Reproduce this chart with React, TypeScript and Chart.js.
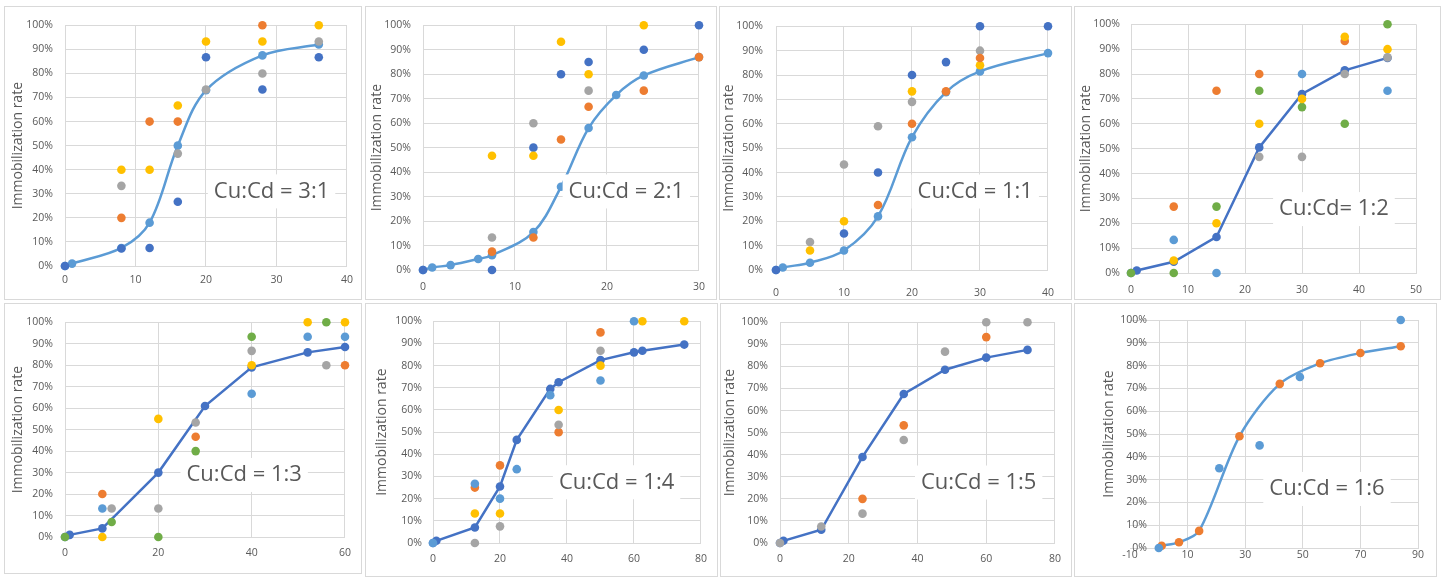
import React, { useEffect, useRef } from 'react';
import { Chart, registerables } from 'chart.js';

Chart.register(...registerables);

type Pt = [number, number];

// ---------- DATA (x = time/dose, y = immobilization rate in %) ----------
// Panel 1: Cu:Cd = 3:1
const p1Fit: Pt[] = [[0, 0], [1, 1], [8, 7.5], [12, 18], [16, 50], [20, 73], [28, 87.5], [36, 92]];
const p1Yellow: Pt[] = [[8, 40], [12, 40], [16, 66.7], [20, 93.3], [28, 93.3], [36, 100]];
const p1Orange: Pt[] = [[8, 20], [12, 60], [16, 60], [28, 100]];
const p1Gray: Pt[] = [[8, 33.3], [16, 46.7], [20, 73.3], [28, 80], [36, 93.3]];
const p1Dark: Pt[] = [[0, 0], [8, 7.3], [12, 7.5], [16, 26.7], [20, 86.7], [28, 73.3], [36, 86.7]];

// Panel 2: Cu:Cd = 2:1
const p2Fit: Pt[] = [[0, 0], [1, 1], [3, 2], [6, 4.5], [7.5, 6], [12, 15.5], [15, 34], [18, 58], [21, 71.5], [24, 79.5], [30, 87]];
const p2Yellow: Pt[] = [[7.5, 46.7], [12, 46.7], [15, 93.3], [18, 80], [24, 100]];
const p2Dark: Pt[] = [[0, 0], [7.5, 0], [12, 50], [15, 80], [18, 85], [24, 90], [30, 100]];
const p2Gray: Pt[] = [[7.5, 13.3], [12, 60], [18, 73.3]];
const p2Orange: Pt[] = [[7.5, 7.5], [12, 13.3], [15, 53.3], [18, 66.7], [24, 73.3], [30, 87]];

// Panel 3: Cu:Cd = 1:1
const p3Fit: Pt[] = [[0, 0], [1, 1], [5, 3], [10, 8], [15, 22], [20, 54.5], [25, 73], [30, 81.5], [40, 89]];
const p3Gray: Pt[] = [[5, 11.5], [10, 43.3], [15, 59], [20, 69], [30, 90]];
const p3Yellow: Pt[] = [[5, 8], [10, 20], [20, 73.3], [30, 84]];
const p3Dark: Pt[] = [[0, 0], [10, 15], [15, 40], [20, 80], [25, 85.3], [30, 100], [40, 100]];
const p3Orange: Pt[] = [[15, 26.7], [20, 60], [25, 73.3], [30, 87]];

// Panel 4: Cu:Cd = 1:2
const p4Fit: Pt[] = [[0, 0], [1, 1], [7.5, 4.5], [15, 14.5], [22.5, 50.5], [30, 72], [37.5, 81.5], [45, 86.5]];
const p4Yellow: Pt[] = [[7.5, 5], [15, 20], [22.5, 60], [30, 70], [37.5, 95], [45, 90]];
const p4Orange: Pt[] = [[7.5, 26.7], [15, 73.3], [22.5, 80], [37.5, 93.3]];
const p4Light: Pt[] = [[7.5, 13.3], [15, 0], [30, 80], [45, 73.3]];
const p4Green: Pt[] = [[0, 0], [7.5, 0], [15, 26.7], [22.5, 73.3], [30, 66.7], [37.5, 60], [45, 100]];
const p4Gray: Pt[] = [[22.5, 46.7], [30, 46.7], [37.5, 80], [45, 86.7]];

// Panel 5: Cu:Cd = 1:3
const p5Fit: Pt[] = [[0, 0], [1, 1], [8, 4], [20, 30], [30, 61], [40, 79], [52, 86], [60, 88.5]];
const p5Orange: Pt[] = [[8, 20], [28, 46.7], [60, 80]];
const p5Light: Pt[] = [[8, 13.3], [40, 66.7], [52, 93.3], [60, 93.3]];
const p5Gray: Pt[] = [[10, 13.3], [20, 13.3], [28, 53.3], [40, 86.7], [56, 80]];
const p5Yellow: Pt[] = [[8, 0], [20, 55], [40, 80], [52, 100], [60, 100]];
const p5Green: Pt[] = [[0, 0], [10, 7], [20, 0], [28, 40], [40, 93.3], [56, 100]];

// Panel 6: Cu:Cd = 1:4
const p6Fit: Pt[] = [[0, 0], [1, 1], [12.5, 7], [20, 25.5], [25, 46.5], [35, 69.5], [37.5, 72.5], [50, 82.5], [60, 86], [62.5, 86.7], [75, 89.5]];
const p6Orange: Pt[] = [[12.5, 25], [20, 35], [37.5, 50], [50, 95]];
const p6Light: Pt[] = [[0, 0], [12.5, 26.7], [20, 20], [25, 33.3], [35, 66.7], [50, 73.3], [60, 100]];
const p6Yellow: Pt[] = [[12.5, 13.3], [20, 13.3], [37.5, 60], [50, 80], [62.5, 100], [75, 100]];
const p6Gray: Pt[] = [[12.5, 0], [20, 7.5], [37.5, 53.3], [50, 86.7]];

// Panel 7: Cu:Cd = 1:5
const p7Fit: Pt[] = [[0, 0], [1, 1], [12, 6], [24, 39], [36, 67.5], [48, 78.5], [60, 84], [72, 87.5]];
const p7Gray: Pt[] = [[0, 0], [12, 7.5], [24, 13.3], [36, 46.7], [48, 86.7], [60, 100], [72, 100]];
const p7Orange: Pt[] = [[24, 20], [36, 53.3], [60, 93.3]];

// Panel 8: Cu:Cd = 1:6
const p8Fit: Pt[] = [[1, 1], [7, 2.5], [14, 7.5], [28, 49], [42, 72], [56, 81], [70, 85.5], [84, 88.5]];
const p8Blue: Pt[] = [[0, 0], [21, 35], [35, 45], [49, 75], [84, 100]];

// Labels & axes
const ratioLabels = ['Cu:Cd = 3:1', 'Cu:Cd = 2:1', 'Cu:Cd = 1:1', 'Cu:Cd= 1:2', 'Cu:Cd = 1:3', 'Cu:Cd = 1:4', 'Cu:Cd = 1:5', 'Cu:Cd = 1:6'];
const labelAnchors: Pt[] = [[29.3, 31], [22.1, 32.1], [29.3, 32.2], [35.6, 25.7], [38.4, 28.9], [54.8, 27.4], [57.8, 27.4], [58.4, 25.9]];
const xMins = [0, 0, 0, 0, 0, 0, 0, -10];
const xMaxs = [40, 30, 40, 50, 60, 80, 80, 90];
const xSteps = [10, 10, 10, 10, 20, 20, 20, 20];
const yMin = 0;
const yMax = 100;
const yStep = 10;
const yTitle = 'Immobilization rate';

// ---------- STYLES ----------
const BLUE = '#5B9BD5';
const ORANGE = '#ED7D31';
const GRAY = '#A5A5A5';
const YELLOW = '#FFC000';
const DARK = '#4472C4';
const GREEN = '#70AD47';
const GRID = '#D9D9D9';
const TEXT = '#595959';
const FONT = '"Open Sans", "Liberation Sans", sans-serif';
const TICK_SIZE = 10.5;
const TITLE_SIZE = 14;

interface Series { pts: Pt[]; color: string }
interface PanelCfg {
  idx: number;
  fit: Pt[];
  lineColor: string;
  markerColor: string;
  tension: number;
  scatter: Series[];
  box: [number, number, number, number]; // left, top, width, height (outer)
  area: [number, number, number, number]; // left, top, right, bottom (absolute)
  titleX: number;
  xPad: number;
  yPad: number;
  zeroAxis?: boolean;
}

const panels: PanelCfg[] = [
  {
    idx: 0, fit: p1Fit, lineColor: BLUE, markerColor: BLUE, tension: 0.35,
    scatter: [{ pts: p1Gray, color: GRAY }, { pts: p1Yellow, color: YELLOW }, { pts: p1Orange, color: ORANGE }, { pts: p1Dark, color: DARK }],
    box: [4, 6, 358, 294], area: [65, 24, 348, 266], titleX: 18, xPad: 8, yPad: 12,
  },
  {
    idx: 1, fit: p2Fit, lineColor: BLUE, markerColor: BLUE, tension: 0.35,
    scatter: [{ pts: p2Orange, color: ORANGE }, { pts: p2Yellow, color: YELLOW }, { pts: p2Gray, color: GRAY }, { pts: p2Dark, color: DARK }],
    box: [365, 6, 352, 294], area: [423, 24, 700, 270], titleX: 377, xPad: 11, yPad: 12,
  },
  {
    idx: 2, fit: p3Fit, lineColor: BLUE, markerColor: BLUE, tension: 0.35,
    scatter: [{ pts: p3Orange, color: ORANGE }, { pts: p3Yellow, color: YELLOW }, { pts: p3Gray, color: GRAY }, { pts: p3Dark, color: DARK }],
    box: [719, 6, 353, 294], area: [776, 25, 1059, 270], titleX: 729, xPad: 17, yPad: 13,
  },
  {
    idx: 3, fit: p4Fit, lineColor: DARK, markerColor: DARK, tension: 0,
    scatter: [{ pts: p4Gray, color: GRAY }, { pts: p4Yellow, color: YELLOW }, { pts: p4Orange, color: ORANGE }, { pts: p4Light, color: BLUE }, { pts: p4Green, color: GREEN }],
    box: [1074, 6, 367, 294], area: [1131, 24, 1416, 273], titleX: 1086, xPad: 11, yPad: 11,
  },
  {
    idx: 4, fit: p5Fit, lineColor: DARK, markerColor: DARK, tension: 0,
    scatter: [{ pts: p5Green, color: GREEN }, { pts: p5Gray, color: GRAY }, { pts: p5Yellow, color: YELLOW }, { pts: p5Light, color: BLUE }, { pts: p5Orange, color: ORANGE }],
    box: [4, 303, 358, 271], area: [65, 319, 351, 537], titleX: 18, xPad: 10, yPad: 12,
  },
  {
    idx: 5, fit: p6Fit, lineColor: DARK, markerColor: DARK, tension: 0,
    scatter: [{ pts: p6Light, color: BLUE }, { pts: p6Gray, color: GRAY }, { pts: p6Yellow, color: YELLOW }, { pts: p6Orange, color: ORANGE }],
    box: [365, 303, 353, 274], area: [433, 320, 709, 543], titleX: 382, xPad: 10, yPad: 11,
  },
  {
    idx: 6, fit: p7Fit, lineColor: DARK, markerColor: DARK, tension: 0,
    scatter: [{ pts: p7Gray, color: GRAY }, { pts: p7Orange, color: ORANGE }],
    box: [720, 303, 352, 274], area: [780, 320, 1057, 543], titleX: 730, xPad: 10, yPad: 12,
  },
  {
    idx: 7, fit: p8Fit, lineColor: BLUE, markerColor: ORANGE, tension: 0.3,
    scatter: [{ pts: p8Blue, color: BLUE }],
    box: [1074, 303, 363, 274], area: [1130, 320, 1418, 548], titleX: 1109, xPad: 1, yPad: 17, zeroAxis: true,
  },
];

const toXY = (pts: Pt[]) => pts.map(([x, y]) => ({ x, y }));

function Panel({ cfg }: { cfg: PanelCfg }) {
  const ref = useRef<HTMLCanvasElement>(null);
  const [bl, bt, bw, bh] = cfg.box;
  const cw = bw - 2;
  const ch = bh - 2;

  useEffect(() => {
    const canvas = ref.current;
    if (!canvas) return;
    const cl = bl + 1;
    const ct = bt + 1;
    const [al, at, ar, ab] = cfg.area;
    const titleHalf = (TITLE_SIZE * 1.2) / 2;
    const padL = cfg.titleX - titleHalf - cl;
    const yW = al - cl - padL;
    const padR = cl + cw - ar;
    const padT = at - ct;
    const xH = ct + ch - ab;
    const i = cfg.idx;

    // for the panel whose vertical axis crosses at x = 0, labels sit inside the plot
    let yTickPadding = cfg.yPad;
    if (cfg.zeroAxis) {
      const c2d = canvas.getContext('2d')!;
      c2d.font = `${TICK_SIZE}px ${FONT}`;
      const widest = c2d.measureText(`${yMax}%`).width;
      yTickPadding = cfg.yPad - widest;
    }

    const datasets: any[] = cfg.scatter.map((s) => ({
      data: toXY(s.pts),
      showLine: false,
      clip: false,
      pointRadius: 4.3,
      pointHoverRadius: 4.3,
      pointBorderWidth: 0,
      pointBackgroundColor: s.color,
      backgroundColor: s.color,
      borderColor: s.color,
    }));
    datasets.push({
      data: toXY(cfg.fit),
      showLine: true,
      clip: false,
      borderColor: cfg.lineColor,
      borderWidth: 2.5,
      tension: cfg.tension,
      pointRadius: 4.3,
      pointHoverRadius: 4.3,
      pointBorderWidth: 0,
      pointBackgroundColor: cfg.markerColor,
      backgroundColor: cfg.markerColor,
    });

    const plugins: any[] = [
      {
        id: 'ratioLabel',
        afterDatasetsDraw(chart: any) {
          const { ctx, scales } = chart;
          const px = scales.x.getPixelForValue(labelAnchors[i][0]);
          const py = scales.y.getPixelForValue(labelAnchors[i][1]);
          ctx.save();
          ctx.font = `22px ${FONT}`;
          const w = ctx.measureText(ratioLabels[i]).width;
          ctx.fillStyle = '#ffffff';
          ctx.fillRect(px - w / 2 - 6, py - 17, w + 12, 34);
          ctx.fillStyle = TEXT;
          ctx.textAlign = 'center';
          ctx.textBaseline = 'middle';
          ctx.fillText(ratioLabels[i], px, py);
          ctx.restore();
        },
      },
    ];
    if (cfg.zeroAxis) {
      plugins.push({
        id: 'zeroAxis',
        beforeDatasetsDraw(chart: any) {
          const { ctx, scales, chartArea } = chart;
          const x0 = Math.round(scales.x.getPixelForValue(0)) + 0.5;
          ctx.save();
          ctx.strokeStyle = GRID;
          ctx.lineWidth = 1;
          ctx.beginPath();
          ctx.moveTo(x0, chartArea.top);
          ctx.lineTo(x0, chartArea.bottom);
          ctx.stroke();
          ctx.restore();
        },
      });
    }

    const chart = new Chart(canvas, {
      type: 'scatter',
      data: { datasets },
      plugins,
      options: {
        animation: false,
        responsive: false,
        devicePixelRatio: 1,
        events: [],
        layout: { padding: { left: padL, right: padR, top: padT, bottom: 0 } },
        plugins: { legend: { display: false }, tooltip: { enabled: false } },
        scales: {
          x: {
            type: 'linear',
            position: 'bottom',
            min: xMins[i],
            max: xMaxs[i],
            ticks: {
              stepSize: xSteps[i],
              padding: cfg.xPad,
              color: TEXT,
              font: { family: FONT, size: TICK_SIZE },
              maxRotation: 0,
              autoSkip: false,
            },
            grid: {
              color: (c: any) => (cfg.zeroAxis && c.tick && c.tick.value === xMins[i] ? 'rgba(0,0,0,0)' : GRID),
              drawTicks: false,
              tickLength: 0,
            },
            border: { color: GRID },
            afterFit: (s: any) => { s.height = xH; },
          },
          y: {
            type: 'linear',
            position: 'left',
            min: yMin,
            max: yMax,
            ticks: {
              stepSize: yStep,
              padding: yTickPadding,
              mirror: !!cfg.zeroAxis,
              crossAlign: cfg.zeroAxis ? 'far' : 'near',
              color: TEXT,
              font: { family: FONT, size: TICK_SIZE },
              callback: (v: any) => `${v}%`,
            },
            grid: { color: GRID, drawTicks: false, tickLength: 0 },
            border: { color: GRID, display: !cfg.zeroAxis },
            title: {
              display: true,
              text: yTitle,
              color: TEXT,
              font: { family: FONT, size: TITLE_SIZE },
              padding: 0,
            },
            afterFit: (s: any) => { s.width = yW; },
          },
        },
      } as any,
    });
    return () => chart.destroy();
  }, []);

  return (
    <div
      style={{
        position: 'absolute',
        left: bl,
        top: bt,
        width: cw,
        height: ch,
        border: `1px solid ${GRID}`,
        overflow: 'hidden',
        background: '#ffffff',
      }}
    >
      <canvas ref={ref} width={cw} height={ch} style={{ display: 'block', width: cw, height: ch }} />
    </div>
  );
}

export default function App() {
  return (
    <div style={{ position: 'fixed', left: 0, top: 0, width: 1446, height: 577, background: '#ffffff', overflow: 'hidden' }}>
      {panels.map((p) => (
        <Panel key={p.idx} cfg={p} />
      ))}
    </div>
  );
}
